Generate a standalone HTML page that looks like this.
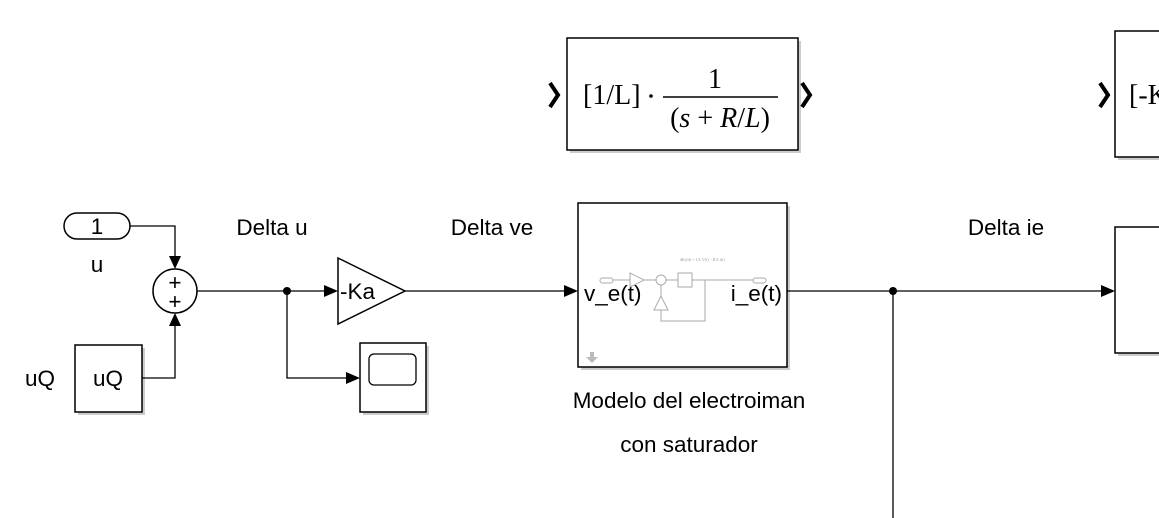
<!DOCTYPE html>
<html><head><meta charset="utf-8"><style>
html,body{margin:0;padding:0;background:#fff;}
svg{display:block;}
.t{font-family:"Liberation Sans",sans-serif;font-size:22.5px;fill:#000;}
.s{font-family:"Liberation Serif",serif;fill:#000;}
.blk{fill:#fff;stroke:#000;stroke-width:1.5;}
.sh{fill:#999;opacity:.5;}
.w{stroke:#000;stroke-width:1.3;fill:none;}
.g{stroke:#aaa;stroke-width:1;fill:none;}
</style></head><body>
<svg width="1159" height="518" viewBox="0 0 1159 518">
<g>
<rect class="sh" x="570" y="41" width="231" height="112"/>
<rect class="blk" x="567" y="38" width="231" height="112"/>
<text class="s" x="583" y="104" font-size="28">[1/L]</text>
<circle cx="651" cy="96" r="1.8" fill="#000"/>
<text class="s" x="715" y="88" font-size="28" text-anchor="middle">1</text>
<line x1="663" y1="97" x2="778" y2="97" stroke="#000" stroke-width="1.5"/>
<text class="s" x="720" y="127" font-size="28" text-anchor="middle">(<tspan font-style="italic">s</tspan> + <tspan font-style="italic">R</tspan>/<tspan font-style="italic">L</tspan>)</text>
<path d="M550,83 L558,95 L550,107" stroke="#000" stroke-width="4" fill="none"/>
<path d="M802,83 L810,95 L802,107" stroke="#000" stroke-width="4" fill="none"/>
</g>
<g>
<rect class="sh" x="1118" y="34" width="60" height="126"/>
<rect class="blk" x="1115" y="31" width="60" height="126"/>
<text class="s" x="1129" y="104" font-size="28">[-K</text>
<path d="M1100,83 L1108,95 L1100,107" stroke="#000" stroke-width="4" fill="none"/>
</g>
<g>
<rect class="blk" x="64" y="213" width="66" height="26" rx="13"/>
<text class="t" x="97" y="234" text-anchor="middle">1</text>
<text class="t" x="97" y="272" text-anchor="middle">u</text>
</g>
<g>
<circle class="blk" cx="175" cy="291" r="22"/>
<text class="t" x="175" y="290" text-anchor="middle" font-size="20">+</text>
<text class="t" x="175" y="309" text-anchor="middle" font-size="20">+</text>
</g>
<g>
<rect class="sh" x="78" y="348" width="67" height="67"/>
<rect class="blk" x="75" y="345" width="67" height="67"/>
<text class="t" x="108" y="386" text-anchor="middle">uQ</text>
<text class="t" x="40" y="386" text-anchor="middle">uQ</text>
</g>
<g>
<path d="M338,258 L405,291 L338,324 Z" class="blk"/>
<text class="t" x="340" y="299">-Ka</text>
</g>
<g>
<rect class="sh" x="363" y="346" width="66" height="69"/>
<rect class="blk" x="360" y="343" width="66" height="69"/>
<rect x="369" y="354" width="47" height="31" rx="5" fill="#fff" stroke="#000" stroke-width="1.3"/>
</g>
<g>
<rect class="sh" x="581" y="206" width="209" height="164"/>
<rect class="blk" x="578" y="203" width="209" height="164"/>
<text class="t" x="584" y="301">v_e(t)</text>
<text class="t" x="782" y="301" text-anchor="end">i_e(t)</text>
<rect class="g" x="600" y="278" width="13" height="5" rx="2.5"/>
<line class="g" x1="613" y1="280" x2="630" y2="280"/>
<path class="g" d="M630,273 L644,280 L630,287 Z"/>
<line class="g" x1="644" y1="280" x2="656" y2="280"/>
<circle class="g" cx="661" cy="280" r="5"/>
<line class="g" x1="666" y1="280" x2="678" y2="280"/>
<rect class="g" x="678" y="273" width="14" height="14"/>
<line class="g" x1="692" y1="280" x2="753" y2="280"/>
<rect class="g" x="753" y="278" width="13" height="5" rx="2.5"/>
<path class="g" d="M705,280 L705,321 L661,321 L661,310"/>
<path class="g" d="M654,310 L661,296 L668,310 Z"/>
<line class="g" x1="661" y1="296" x2="661" y2="285"/>
<text x="680" y="261" font-size="4" fill="#999" font-family="Liberation Serif,serif">dI(t)/dt = 1/L V(t) − R/L i(t)</text>
<path d="M586,357 l4,0 0,-5 4,0 0,5 4,0 -6,6 z" fill="#bbb"/>
</g>
<text class="t" x="689" y="408" text-anchor="middle">Modelo del electroiman</text>
<text class="t" x="689" y="452" text-anchor="middle">con saturador</text>
<g>
<rect class="sh" x="1118" y="230" width="60" height="126"/>
<rect class="blk" x="1115" y="227" width="60" height="126"/>
</g>
<g>
<path class="w" d="M130,226 L175,226 L175,257"/>
<path d="M169,256 L181,256 L175,269 Z"/>
<path class="w" d="M142,378 L175,378 L175,325"/>
<path d="M169,326 L181,326 L175,313 Z"/>
<path class="w" d="M197,291 L326,291"/>
<path d="M324,285 L338,291 L324,297 Z"/>
<circle cx="287" cy="291" r="4"/>
<path class="w" d="M287,291 L287,378 L348,378"/>
<path d="M346,372 L360,378 L346,384 Z"/>
<path class="w" d="M405,291 L566,291"/>
<path d="M564,285 L578,291 L564,297 Z"/>
<path class="w" d="M787,291 L1103,291"/>
<path d="M1101,285 L1115,291 L1101,297 Z"/>
<circle cx="893" cy="291" r="4"/>
<path class="w" d="M893,291 L893,518"/>
</g>
<text class="t" x="272" y="235" text-anchor="middle">Delta u</text>
<text class="t" x="492" y="235" text-anchor="middle">Delta ve</text>
<text class="t" x="1006" y="235" text-anchor="middle">Delta ie</text>
</svg>
</body></html>
